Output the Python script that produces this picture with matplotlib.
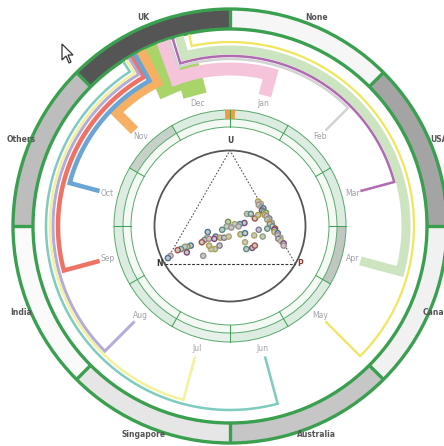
import numpy as np
import matplotlib
matplotlib.use("Agg")
import matplotlib.pyplot as plt
from matplotlib.patches import Wedge, Circle, Polygon
from matplotlib.colors import to_rgb

# ---- data ----
months = ["Jan", "Feb", "Mar", "Apr", "May", "Jun",
          "Jul", "Aug", "Sep", "Oct", "Nov", "Dec"]
month_colors = ["#f6c4da", "#d3d3d3", "#b06ab0", "#cce5c0", "#f2e55c", "#7fcbbd",
                "#f3f29a", "#b4aadc", "#ee7364", "#6aa5d6", "#f7b063", "#a8d46a"]
month_weight = [13, 2.5, 2.5, 9, 2.2, 2.5, 2.5, 3, 4.5, 4.5, 10, 24]
month_level = [157, 167, 170, 176, 184, 184, 180, 177, 172, 166, 161, 156]
month_entry = [340, 342, 343, 345, 348, 327, 328, 329, 330, 331, 333, 336]

countries = ["None", "USA", "Canada", "Australia", "Singapore", "India", "Others", "UK"]
country_fill = ["#f6f6f6", "#a4a4a4", "#f1f1f1", "#c6c6c6",
                "#e6e6e6", "#fafafa", "#bdbdbd", "#555555"]

ring_fill = ["#dcece0", "#dcece0", "#dcece0", "#bfc7c0", "#dcece0", "#dcece0",
             "#e8f1e9", "#dcece0", "#dcece0", "#dcece0", "#c6d2c8", "#dcece0"]

# ternary points (share of U and P, N is the rest) and month of each point
pt_u = [0.55, 0.53, 0.52, 0.50, 0.49, 0.47, 0.46, 0.45, 0.43, 0.42, 0.40, 0.39, 0.37,
        0.36, 0.35, 0.33, 0.31, 0.30, 0.28, 0.27, 0.25, 0.23, 0.22, 0.20, 0.18, 0.16,
        0.44, 0.44, 0.40, 0.43, 0.36, 0.35, 0.35, 0.37, 0.33, 0.32, 0.30, 0.24, 0.23,
        0.23, 0.24, 0.28, 0.23, 0.21, 0.19, 0.22, 0.22, 0.16, 0.13, 0.13, 0.07, 0.16,
        0.15, 0.15, 0.13, 0.12, 0.10, 0.07, 0.05, 0.19, 0.13, 0.14, 0.16, 0.26, 0.27,
        0.25, 0.24, 0.30, 0.31, 0.33, 0.16]
pt_p = [0.44, 0.47, 0.46, 0.49, 0.51, 0.51, 0.53, 0.55, 0.55, 0.57, 0.60, 0.59, 0.62,
        0.64, 0.63, 0.66, 0.69, 0.69, 0.70, 0.73, 0.74, 0.77, 0.76, 0.79, 0.82, 0.83,
        0.41, 0.44, 0.49, 0.50, 0.43, 0.40, 0.36, 0.30, 0.31, 0.35, 0.29, 0.27, 0.31,
        0.34, 0.37, 0.19, 0.21, 0.20, 0.19, 0.23, 0.27, 0.34, 0.32, 0.29, 0.26, 0.12,
        0.10, 0.08, 0.06, 0.04, 0.12, 0.01, 0.00, 0.52, 0.56, 0.60, 0.61, 0.45, 0.48,
        0.56, 0.63, 0.57, 0.63, 0.40, 0.26]
pt_month = [4, 6, 0, 3, 9, 2, 5, 11, 4, 0, 7, 3, 6, 1, 10, 5, 8, 2, 4, 9, 0, 3, 7, 6, 2, 0,
            3, 5, 8, 4, 2, 9, 6, 11, 3, 1, 5, 9, 4, 7, 6, 9, 3, 5, 8, 0, 2, 7, 4, 6,
            1, 9, 11, 3, 5, 8, 2, 0, 9, 6, 5, 2, 8, 4, 9, 6, 3, 7, 5, 1, 4]

# ---- geometry helpers (angles clockwise from top, degrees) ----
def pol(r, th):
    t = np.radians(th)
    return r * np.sin(t), r * np.cos(t)

def band(ax, th1, th2, r_in, r_out, **kw):
    ax.add_patch(Wedge((0, 0), r_out, 90 - th2, 90 - th1, width=r_out - r_in, **kw))

fig = plt.figure(figsize=(4.44, 4.46), dpi=100)
ax = fig.add_axes([0, 0, 1, 1])
ax.set_xlim(-230, 214)
ax.set_ylim(-220, 226)
ax.set_aspect("equal")
ax.axis("off")

green = "#3aa050"

# ---- outer country band ----
R_IN, R_OUT = 197, 217
for i, c in enumerate(countries):
    band(ax, i * 45, (i + 1) * 45, R_IN, R_OUT, facecolor=country_fill[i], edgecolor="none")
for r in (R_IN, R_OUT):
    ax.add_patch(Circle((0, 0), r, fill=False, edgecolor=green, lw=2.4))
for i, c in enumerate(countries):
    x0, y0 = pol(R_IN, i * 45)
    x1, y1 = pol(R_OUT, i * 45)
    ax.plot([x0, x1], [y0, y1], color=green, lw=2.4, solid_capstyle="butt")
    lx, ly = pol(226, i * 45 + 22.5)
    ax.text(lx, ly, c, ha="center", va="center", fontsize=5.5, fontweight="bold",
            color="#555555")

# ---- month flow lines ----
order = np.argsort(month_weight)[::-1]
for i in order:
    th_m = 15 + 30 * i
    th_e = month_entry[i]
    d = (th_e - th_m + 180) % 360 - 180
    arc = np.linspace(th_m, th_m + d, 80)
    rs = np.concatenate([[135, month_level[i]], np.full(80, month_level[i]), [R_IN - 1]])
    ths = np.concatenate([[th_m, th_m], arc, [th_m + d]])
    xs, ys = pol(rs, ths)
    ax.plot(xs, ys, color=month_colors[i], lw=month_weight[i] * 0.72,
            solid_joinstyle="miter", solid_capstyle="butt")
    lx, ly = pol(127, th_m)
    ax.text(lx, ly, months[i], ha="center", va="center", fontsize=5.5, color="#a0a0a8")

# ---- inner month ring ----
for i in range(12):
    band(ax, 30 * i, 30 * (i + 1), 107, 116, facecolor=ring_fill[i], edgecolor="none")
    band(ax, 30 * i, 30 * (i + 1), 99, 107, facecolor="#f4f9f4", edgecolor="none")
    x0, y0 = pol(99, 30 * i)
    x1, y1 = pol(116, 30 * i)
    ax.plot([x0, x1], [y0, y1], color=green, lw=0.7)
for r in (99, 107, 116):
    ax.add_patch(Circle((0, 0), r, fill=False, edgecolor="#5aa86c", lw=0.7))
band(ax, -2.5, 2.5, 107, 116, facecolor="#f29a3c", edgecolor="none")

# ---- ternary plot ----
RT = 75.5
ax.add_patch(Circle((0, 0), RT, fill=False, edgecolor="#555555", lw=1.3))
U = np.array(pol(RT, 0))
P = np.array(pol(RT, 120))
N = np.array(pol(RT, 240))
ax.plot([N[0], U[0], P[0]], [N[1], U[1], P[1]], color="#555555", lw=0.8, ls=(0, (1.5, 1.5)))
ax.plot([N[0], P[0]], [N[1], P[1]], color="#333333", lw=0.8, ls=(0, (2.5, 1.5)))
ax.text(U[0], U[1] + 10, "U", ha="center", va="center", fontsize=5.5,
        fontweight="bold", color="#444444")
ax.text(N[0] - 5, N[1], "N", ha="center", va="center", fontsize=5.5,
        fontweight="bold", color="#333333")
ax.text(P[0] + 5, P[1], "P", ha="center", va="center", fontsize=5.5,
        fontweight="bold", color="#8a3a2a")

pu = np.array(pt_u)
pp = np.array(pt_p)
pn = 1 - pu - pp
px = pu * U[0] + pp * P[0] + pn * N[0]
py = pu * U[1] + pp * P[1] + pn * N[1]
edge = [tuple(0.7 * np.array(to_rgb(month_colors[m]))) for m in pt_month]
ax.scatter(px, py, s=14, facecolor="#c9c9c2", edgecolors=edge, linewidths=1.0, zorder=5)

# mouse pointer from the screenshot
cur = np.array([[0, 0], [0, -16], [4, -12], [7, -19], [9, -18], [6, -11], [11, -11]])
ax.add_patch(Polygon(cur + [-168, 182], closed=True, facecolor="white",
                     edgecolor="#333333", lw=0.9, zorder=6))

fig.savefig("out.png", dpi=100, facecolor="white")
